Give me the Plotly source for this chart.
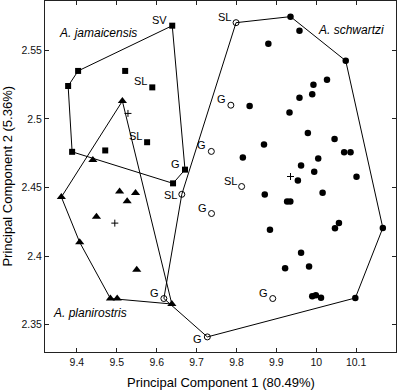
import plotly.graph_objects as go

# ---------------- data ----------------
jam_x = [9.639, 9.403, 9.378, 9.388, 9.521, 9.589, 9.576, 9.471, 9.641, 9.671]
jam_y = [2.568, 2.535, 2.524, 2.476, 2.535, 2.523, 2.483, 2.477, 2.453, 2.463]
jam_lab = ["SV", "", "", "", "", "SL", "SL", "", "", "G"]

plan_x = [9.514, 9.440, 9.361, 9.507, 9.547, 9.526, 9.449, 9.407, 9.550, 9.484, 9.501, 9.638]
plan_y = [2.513, 2.470, 2.443, 2.447, 2.446, 2.440, 2.4286, 2.410, 2.390, 2.369, 2.369, 2.365]

sch_x = [9.9355, 9.958, 9.880, 10.074, 10.027, 9.993, 9.990, 9.958, 9.833, 9.933,
         9.979, 10.046, 9.869, 10.070, 10.086, 9.816, 10.005, 9.962, 9.995, 10.101,
         9.954, 10.016, 9.871, 9.927, 9.935, 9.884, 10.047, 10.057, 10.167, 9.962,
         9.922, 9.982, 9.990, 9.999, 10.012, 10.098]
sch_y = [2.5746, 2.5643, 2.5548, 2.5424, 2.5285, 2.5249, 2.518, 2.5154, 2.5095, 2.5046,
         2.4898, 2.4854, 2.4814, 2.4756, 2.4756, 2.4719, 2.4712, 2.4661, 2.4615, 2.4578,
         2.4551, 2.4461, 2.4449, 2.4398, 2.4398, 2.4191, 2.4203, 2.424, 2.4205, 2.4023,
         2.3911, 2.3923, 2.3706, 2.3713, 2.3696, 2.3694]

open_x = [9.799, 9.786, 9.737, 9.813, 9.663, 9.7375, 9.618, 9.891, 9.727]
open_y = [2.5702, 2.510, 2.4763, 2.4507, 2.445, 2.431, 2.369, 2.369, 2.341]
open_lab = ["SL", "G", "G", "SL", "SL", "G", "G", "G", "G"]

cent_x = [9.528, 9.495, 9.9355]
cent_y = [2.504, 2.424, 2.458]

species = ["A. jamaicensis", "A. schwartzi", "A. planirostris"]
species_x = [9.453, 10.087, 9.433]
species_y = [2.5627, 2.5648, 2.3587]

x_ticks = [9.4, 9.5, 9.6, 9.7, 9.8, 9.9, 10.0, 10.1, 10.2]
x_ticktext = ["9.4", "9.5", "9.6", "9.7", "9.8", "9.9", "10", "10.1", "10.2"]
y_ticks = [2.35, 2.40, 2.45, 2.50, 2.55]
y_ticktext = ["2.35", "2.4", "2.45", "2.5", "2.55"]

x_title = "Principal Component 1 (80.49%)"
y_title = "Principal Component 2 (5.36%)"


# ---------------- helpers ----------------
def convex_hull(xs, ys):
    pts = sorted(set(zip(xs, ys)))
    if len(pts) < 3:
        return pts

    def cross(o, a, b):
        return (a[0] - o[0]) * (b[1] - o[1]) - (a[1] - o[1]) * (b[0] - o[0])

    lower = []
    for p in pts:
        while len(lower) >= 2 and cross(lower[-2], lower[-1], p) <= 0:
            lower.pop()
        lower.append(p)
    upper = []
    for p in reversed(pts):
        while len(upper) >= 2 and cross(upper[-2], upper[-1], p) <= 0:
            upper.pop()
        upper.append(p)
    hull = lower[:-1] + upper[:-1]
    hull.append(hull[0])
    return hull


FONT = "Liberation Sans, Arial, sans-serif"
fig = go.Figure()

# hull outlines
for hx, hy in [(jam_x, jam_y), (plan_x, plan_y), (sch_x + open_x, sch_y + open_y)]:
    h = convex_hull(hx, hy)
    fig.add_trace(go.Scatter(x=[p[0] for p in h], y=[p[1] for p in h], mode="lines",
                             line=dict(color="black", width=1), hoverinfo="skip",
                             showlegend=False))

# points
fig.add_trace(go.Scatter(x=jam_x, y=jam_y, mode="markers", showlegend=False,
                         marker=dict(symbol="square", size=6, color="black")))
fig.add_trace(go.Scatter(x=plan_x, y=plan_y, mode="markers", showlegend=False,
                         marker=dict(symbol="triangle-up", size=8, color="black")))
fig.add_trace(go.Scatter(x=sch_x, y=sch_y, mode="markers", showlegend=False,
                         marker=dict(symbol="circle", size=6.5, color="black")))
fig.add_trace(go.Scatter(x=open_x, y=open_y, mode="markers", showlegend=False,
                         marker=dict(symbol="circle-open", size=6,
                                     color="black", line=dict(width=1))))
fig.add_trace(go.Scatter(x=cent_x, y=cent_y, mode="markers", showlegend=False,
                         marker=dict(symbol="cross-thin", size=5,
                                     color="black", line=dict(width=1, color="black"))))

# point labels
special_dy = {("SL", 9.663): -1, ("G", 9.727): -2}
for lx, ly, lt in list(zip(jam_x, jam_y, jam_lab)) + list(zip(open_x, open_y, open_lab)):
    if not lt:
        continue
    dy = special_dy.get((lt, lx), 6)
    fig.add_annotation(x=lx, y=ly, text=lt, showarrow=False, xanchor="right",
                       yanchor="middle", xshift=-3, yshift=dy,
                       font=dict(family=FONT, size=11, color="black"))

# species labels
for sx, sy, st in zip(species_x, species_y, species):
    fig.add_annotation(x=sx, y=sy, text="<i>" + st + "</i>", showarrow=False,
                       xanchor="center", yanchor="middle",
                       font=dict(family=FONT, size=12, color="black"))

# axis titles
fig.add_annotation(xref="paper", yref="paper", x=0.5, y=-0.088, text=x_title,
                   showarrow=False, xanchor="center", yanchor="middle",
                   font=dict(family=FONT, size=13, color="black"))
fig.add_annotation(xref="paper", yref="paper", x=-0.108, y=0.5, text=y_title,
                   showarrow=False, xanchor="center", yanchor="middle", textangle=-90,
                   font=dict(family=FONT, size=13, color="black"))

axis_common = dict(showgrid=False, zeroline=False, showline=True, linecolor="#222",
                   linewidth=1, mirror="ticks", ticks="inside", ticklen=4,
                   tickcolor="#222", tickwidth=1, automargin=False,
                   tickfont=dict(family=FONT, size=10.5, color="#111"))
fig.update_xaxes(range=[9.32, 10.2], tickvals=x_ticks, ticktext=x_ticktext, **axis_common)
fig.update_yaxes(range=[2.33, 2.586], tickvals=y_ticks, ticktext=y_ticktext, **axis_common)

fig.update_layout(width=405, height=392, autosize=False,
                  margin=dict(l=45, r=9, t=1, b=40, pad=0, autoexpand=False),
                  plot_bgcolor="white", paper_bgcolor="white",
                  font=dict(family=FONT, color="black"))

fig.write_html("out.html", config={"displayModeBar": False},
               post_script="document.body.style.margin='0';document.body.style.overflow='hidden';")
